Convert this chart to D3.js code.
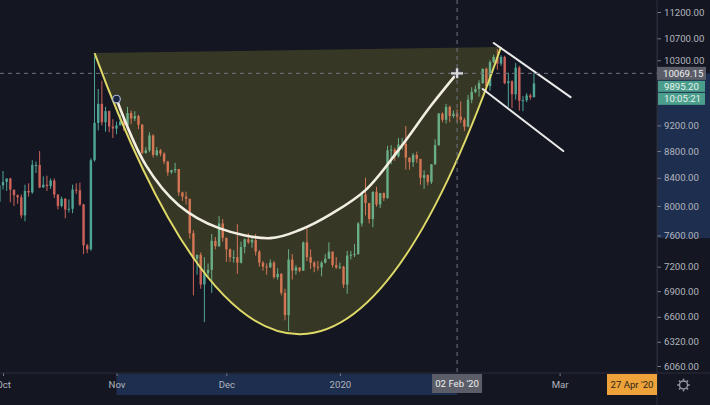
<!DOCTYPE html>
<html>
<head>
<meta charset="utf-8">
<script src="https://cdn.jsdelivr.net/npm/d3@7"></script>
<style>
    html, body { margin: 0; padding: 0; background: #141722; overflow: hidden; }
    #wrapper { width: 710px; height: 405px; }
    text { font-family: Roboto, "Noto Sans", sans-serif; }
</style>
</head>
<body>
<div id="wrapper"></div>
<script>
// daily BTC candles, first one is 30 Sep 2019
const firstDay = "2019-09-30"

const opens = [
    8060,
    8290,8340,8390,8230,8150,8120,7870,8210,8190,8590,
    8590,8260,8300,8280,8360,8160,8000,8100,7950,7960,
    8230,8220,8020,7470,7420,8660,9240,9550,9250,9430,9180,
    9150,9200,9260,9200,9400,9310,9350,9210,8770,8810,
    9040,8740,8810,8760,8640,8480,8510,8530,8190,8130,
    8100,7630,7300,7350,6980,7120,7160,7530,7460,7760,
    7570,7420,7320,7320,7250,7450,7550,7510,7540,7390,
    7250,7200,7190,7250,7070,7110,6880,6620,7290,7150,
    7190,7150,7510,7320,7250,7200,7190,7250,7300,7390,7220,
    7190,7200,6980,7340,7350,7360,7760,8160,8040,7820,
    8200,8020,8180,8110,8810,8820,8720,8900,8910,8700,
    8630,8740,8680,8400,8440,8340,8600,8890,9390,9290,9500,
    9350,9390,9340,9290,9180,9620,9750,9800,9900,10150,
    9850,10270,10360,10240,10360,9900,9930,9710,10170,9600,
    9610,9690,9660
]
const highs = [
    8330,
    8500,8390,8400,8220,8160,8160,8300,8320,8660,8640,
    8800,8420,8430,8390,8390,8160,8130,8110,8090,8300,
    8320,8330,8030,7490,8690,10370,9800,9940,9500,9440,9300,
    9260,9370,9300,9500,9440,9430,9370,9220,8860,9090,
    9060,8860,8830,8780,8650,8520,8620,8530,8200,8200,
    8100,7670,7350,7380,7320,7240,7620,7580,7860,7820,
    7570,7430,7410,7750,7520,7560,7630,7580,7620,7410,
    7270,7240,7290,7270,7180,7120,6930,7420,7360,7220,
    7190,7520,7690,7420,7270,7270,7270,7360,7510,7390,7320,
    7250,7210,7400,7400,7490,7780,8200,8400,8040,8200,
    8270,8180,8190,8880,8890,8850,9000,9000,9190,8700,
    8770,8790,8680,8510,8450,8600,8980,9400,9410,9550,9520,
    9440,9460,9590,9320,9700,9830,9860,9950,10150,10170,
    10300,10400,10500,10390,10380,10080,9950,10250,10200,9680,
    9730,9720,10080
]
const lows = [
    7800,
    8230,8210,8050,8000,8030,7830,7790,8130,8170,8470,
    8250,8260,8210,8240,8110,7950,7980,7830,7910,7900,
    8170,8000,7360,7370,7400,8640,9120,9200,9100,9090,9000,
    9060,9200,9110,9170,9220,9270,9140,8750,8760,8780,
    8700,8720,8720,8600,8430,8460,8470,8140,8070,8020,
    7560,6850,7100,6930,6540,7080,6880,7420,7450,7520,
    7260,7260,7250,7110,7240,7370,7490,7440,7340,7200,
    7150,7100,7190,7050,7040,6850,6560,6440,7040,7100,
    7130,7150,7270,7170,7130,7150,7080,7240,7300,7190,7170,
    7170,6940,6870,7290,7320,7350,7720,7870,7760,7710,
    7990,7970,8070,8100,8600,8650,8700,8820,8520,8520,
    8560,8620,8300,8240,8290,8310,8590,8880,9250,9230,9250,
    9320,9250,9240,9110,9170,9560,9730,9670,9890,9740,
    9770,10250,10130,10200,9880,9500,9480,9620,9440,9430,
    9580,9620,9660
]
const closes = [
    8290,
    8340,8390,8230,8150,8120,7870,8210,8190,8590,8590,
    8260,8300,8280,8360,8160,8000,8100,7950,7960,8230,
    8220,8020,7470,7420,8660,9240,9550,9250,9430,9180,9150,
    9200,9260,9200,9400,9310,9350,9210,8770,8810,9040,
    8740,8810,8760,8640,8480,8510,8530,8190,8130,8100,
    7630,7300,7350,6980,7120,7160,7530,7460,7760,7570,
    7420,7320,7320,7250,7450,7550,7510,7540,7390,7250,
    7200,7190,7250,7070,7110,6880,6620,7290,7150,7190,
    7150,7510,7320,7250,7200,7190,7250,7300,7390,7220,7190,
    7200,6980,7340,7350,7360,7760,8160,8040,7820,8200,
    8020,8180,8110,8810,8820,8720,8900,8910,8700,8630,
    8740,8680,8400,8440,8340,8600,8890,9390,9290,9500,9350,
    9390,9340,9290,9180,9620,9750,9800,9900,10150,9850,
    10270,10360,10240,10360,9900,9930,9710,10170,9600,9610,
    9690,9660,9895.20
]

const priceTicks = [11200, 10700, 10300, 9200, 8800, 8400, 8000, 7600, 7200, 6900, 6600, 6320, 6060]
const dateTicks = ["2019-10-01", "2019-11-01", "2019-12-01", "2020-01-01", "2020-03-01"]

// cup drawing: start, bezier control, end
const cupDates = ["2019-10-26", "2019-12-22", "2020-02-14"]
const cupPrices = [10430, 3911, 10540]

// white arc (selected drawing)
const arcDates = ["2019-11-01", "2019-11-09", "2019-11-18", "2019-11-29", "2019-12-13", "2019-12-21",
    "2019-12-30", "2020-01-08", "2020-01-17", "2020-01-26", "2020-02-02"]
const arcPrices = [9630, 8587, 8011, 7698, 7565, 7672, 7901, 8223, 8814, 9530, 10069]

// falling channel
const channelDates = [["2020-02-12", "2020-03-04"], ["2020-02-09", "2020-03-02"]]
const channelPrices = [[10613, 9663], [9799, 8799]]

const crossDate = "2020-02-02"
const crossPrice = 10069.15
const lastPrice = 9895.20
const countdown = "10:05:21"
const crossDateLabel = "02 Feb '20"
const markerLabel = "27 Apr '20"

window.addEventListener("load", paint)

function paint() {
    const dimensions = getDimensions()

    const svg = d3.select("#wrapper")
        .append("svg")
            .attr("width", dimensions.width)
            .attr("height", dimensions.height)

    svg.append("rect")
        .attr("width", dimensions.width).attr("height", dimensions.height)
        .attr("fill", "#141722")

    const x = d3.scaleUtc()
        .domain([new Date(dateTicks[0]), new Date(dateTicks[4])])
        .range([3, 559.6])
    const y = d3.scaleLog()
        .domain([11200, 6060])
        .range([12, 366])

    svg.append("clipPath").attr("id", "plotclip")
        .append("rect")
        .attr("width", dimensions.boundedWidth).attr("height", dimensions.boundedHeight)

    const plot = svg.append("g").attr("clip-path", "url(#plotclip)")

    drawCandles(plot, x, y)
    drawCup(plot, x, y)
    drawArc(plot, x, y)
    drawChannel(plot, x, y)
    drawCrosshair(plot, x, y, dimensions)
    drawPriceAxis(svg, x, y, dimensions)
    drawTimeAxis(svg, x, y, dimensions)
}

function drawCandles(plot, x, y) {
    const start = new Date(firstDay)
    const days = d3.utcDay.range(start, d3.utcDay.offset(start, closes.length))
    const bars = days.map((d, i) => ({date: d, o: opens[i], h: highs[i], l: lows[i], c: closes[i]}))
    const step = x(days[1]) - x(days[0])
    const bw = step * 0.66

    const g = plot.append("g")
    const candle = g.selectAll("g").data(bars).join("g")
        .attr("fill", d => d.c >= d.o ? "#4fa595" : "#cc6259")
        .attr("stroke", d => d.c >= d.o ? "#4fa595" : "#cc6259")

    candle.append("line")
        .attr("x1", d => x(d.date)).attr("x2", d => x(d.date))
        .attr("y1", d => y(d.h)).attr("y2", d => y(d.l))
        .attr("stroke-width", 1)

    candle.append("rect")
        .attr("stroke", "none")
        .attr("x", d => x(d.date) - bw / 2)
        .attr("width", bw)
        .attr("y", d => y(Math.max(d.o, d.c)))
        .attr("height", d => Math.max(1, Math.abs(y(d.o) - y(d.c))))
}

function drawCup(plot, x, y) {
    const p = cupDates.map((d, i) => [x(new Date(d)), y(cupPrices[i])])

    const area = d3.path()
    area.moveTo(p[0][0], p[0][1])
    area.quadraticCurveTo(p[1][0], p[1][1], p[2][0], p[2][1])
    area.closePath()
    plot.append("path").attr("d", area.toString())
        .attr("fill", "#f0e040").attr("fill-opacity", 0.16)

    const curve = d3.path()
    curve.moveTo(p[0][0], p[0][1])
    curve.quadraticCurveTo(p[1][0], p[1][1], p[2][0], p[2][1])
    plot.append("path").attr("d", curve.toString())
        .attr("fill", "none").attr("stroke", "#dfd968").attr("stroke-width", 2)
}

function drawArc(plot, x, y) {
    const pts = arcDates.map((d, i) => [x(new Date(d)), y(arcPrices[i])])
    const line = d3.line().curve(d3.curveCatmullRom.alpha(0.5))

    plot.append("path").attr("d", line(pts))
        .attr("fill", "none").attr("stroke", "#f2efe2")
        .attr("stroke-width", 2.6).attr("stroke-linecap", "round")

    plot.append("circle")
        .attr("cx", pts[0][0]).attr("cy", pts[0][1]).attr("r", 3.8)
        .attr("fill", "#1b2541").attr("stroke", "#a9b6d2").attr("stroke-width", 1.2)
}

function drawChannel(plot, x, y) {
    channelDates.forEach((pair, i) => {
        plot.append("line")
            .attr("x1", x(new Date(pair[0]))).attr("y1", y(channelPrices[i][0]))
            .attr("x2", x(new Date(pair[1]))).attr("y2", y(channelPrices[i][1]))
            .attr("stroke", "#e9e9e9").attr("stroke-width", 2).attr("stroke-linecap", "round")
    })
}

function drawCrosshair(plot, x, y, dimensions) {
    const cx = x(new Date(crossDate))
    const cy = y(crossPrice)
    plot.append("line")
        .attr("x1", 0).attr("x2", dimensions.boundedWidth)
        .attr("y1", cy).attr("y2", cy)
        .attr("stroke", "#6f737e").attr("stroke-dasharray", "4,4")
    plot.append("line")
        .attr("x1", cx).attr("x2", cx)
        .attr("y1", 0).attr("y2", dimensions.boundedHeight)
        .attr("stroke", "#6f737e").attr("stroke-dasharray", "4,4")

    // move cursor
    const cur = "M" + (cx - 6) + "," + cy + "H" + (cx + 6) + "M" + cx + "," + (cy - 5) + "V" + (cy + 5)
    plot.append("path").attr("d", cur)
        .attr("stroke", "#3a3d46").attr("stroke-width", 4.5)
    plot.append("path").attr("d", cur)
        .attr("stroke", "#d9d9d9").attr("stroke-width", 2.4)
}

function drawPriceAxis(svg, x, y, dimensions) {
    const left = dimensions.boundedWidth

    // selected drawing range
    svg.append("rect")
        .attr("x", left).attr("width", dimensions.width - left)
        .attr("y", y(d3.max(arcPrices))).attr("height", y(d3.min(arcPrices)) - y(d3.max(arcPrices)))
        .attr("fill", "#1e2e4e")

    const axis = svg.append("g")
        .attr("transform", "translate(" + left + ",0)")
        .call(d3.axisRight(y).tickValues(priceTicks).tickFormat(d3.format(".2f"))
            .tickSize(4).tickPadding(3).tickSizeOuter(0))
    axis.select(".domain").attr("stroke", "#2b2f3a")
    axis.selectAll(".tick line").attr("stroke", "#787b86")
    axis.selectAll(".tick text").attr("fill", "#b2b5be")
        .attr("font-size", 9.6).attr("font-family", "Roboto, sans-serif")

    svg.append("line")
        .attr("x1", left).attr("x2", left).attr("y1", 0).attr("y2", dimensions.height)
        .attr("stroke", "#2b2f3a")

    // crosshair price
    const cy = y(crossPrice)
    priceBox(svg, left, cy - 6.5, 49, 13, "#5b5e68", d3.format(".2f")(crossPrice), "#f0f0f0")
    // last price + countdown
    const top = Math.max(y(lastPrice) - 5.5, cy + 7.5)
    priceBox(svg, left + 1, top, 47, 11, "#4c9e8c", d3.format(".2f")(lastPrice), "#e6f4ef")
    priceBox(svg, left + 1, top + 12, 47, 12, "#4c9e8c", countdown, "#e6f4ef")
}

function priceBox(svg, bx, by, w, h, fill, label, color) {
    svg.append("rect")
        .attr("x", bx).attr("y", by).attr("width", w).attr("height", h)
        .attr("fill", fill)
    svg.append("text")
        .attr("x", bx + 6).attr("y", by + h / 2)
        .attr("dy", "0.35em")
        .attr("font-size", 9.6).attr("fill", color)
        .text(label)
}

function drawTimeAxis(svg, x, y, dimensions) {
    const top = dimensions.boundedHeight

    svg.append("rect")
        .attr("x", x(new Date(arcDates[0]))).attr("y", top + 1)
        .attr("width", x(new Date(arcDates[arcDates.length - 1])) - x(new Date(arcDates[0])))
        .attr("height", 21)
        .attr("fill", "#1e2e4e")

    const fmt = d => d.getUTCMonth() === 0 ? d3.utcFormat("%Y")(d) : d3.utcFormat("%b")(d)
    const axis = svg.append("g")
        .attr("transform", "translate(0," + top + ")")
        .call(d3.axisBottom(x).tickValues(dateTicks.map(d => new Date(d))).tickFormat(fmt)
            .tickSize(3).tickPadding(5).tickSizeOuter(0))
    axis.select(".domain").remove()
    axis.selectAll(".tick line").attr("stroke", "#787b86")
    axis.selectAll(".tick text").attr("fill", "#b2b5be")
        .attr("font-size", 9.6).attr("font-family", "Roboto, sans-serif")

    svg.append("line")
        .attr("x1", 0).attr("x2", dimensions.width).attr("y1", top).attr("y2", top)
        .attr("stroke", "#2b2f3a")

    // crosshair date
    const cx = x(new Date(crossDate))
    svg.append("rect")
        .attr("x", cx - 25).attr("y", top + 1).attr("width", 50).attr("height", 19)
        .attr("fill", "#5b5e68")
    svg.append("text")
        .attr("x", cx).attr("y", top + 11).attr("dy", "0.35em")
        .attr("text-anchor", "middle").attr("font-size", 9.6).attr("fill", "#eeeeee")
        .text(crossDateLabel)

    // marker date at the right edge
    const right = dimensions.boundedWidth
    svg.append("rect")
        .attr("x", right - 50).attr("y", top + 1).attr("width", 50).attr("height", 21)
        .attr("fill", "#eea23a")
    svg.append("text")
        .attr("x", right - 25).attr("y", top + 12).attr("dy", "0.35em")
        .attr("text-anchor", "middle").attr("font-size", 9.6).attr("fill", "#2a2418")
        .text(markerLabel)

    // settings gear
    const gx = (right + dimensions.width) / 2, gy = top + 12
    const gear = svg.append("g").attr("transform", "translate(" + gx + "," + gy + ")")
    gear.append("circle").attr("r", 4).attr("fill", "none")
        .attr("stroke", "#9598a1").attr("stroke-width", 1.4)
    d3.range(8).forEach(i => {
        const a = i * Math.PI / 4
        gear.append("line")
            .attr("x1", Math.cos(a) * 4.5).attr("y1", Math.sin(a) * 4.5)
            .attr("x2", Math.cos(a) * 6.3).attr("y2", Math.sin(a) * 6.3)
            .attr("stroke", "#9598a1").attr("stroke-width", 1.6)
    })
}

function getDimensions() {
    let dimensions = {
        width: 710,
        height: 405,
        margin: {
            top: 0,
            right: 53,
            bottom: 32,
            left: 0,
        },
    }

    return {
        ...dimensions,
        boundedWidth: dimensions.width - dimensions.margin.left - dimensions.margin.right,
        boundedHeight: dimensions.height - dimensions.margin.top - dimensions.margin.bottom
    }
}
</script>
</body>
</html>
